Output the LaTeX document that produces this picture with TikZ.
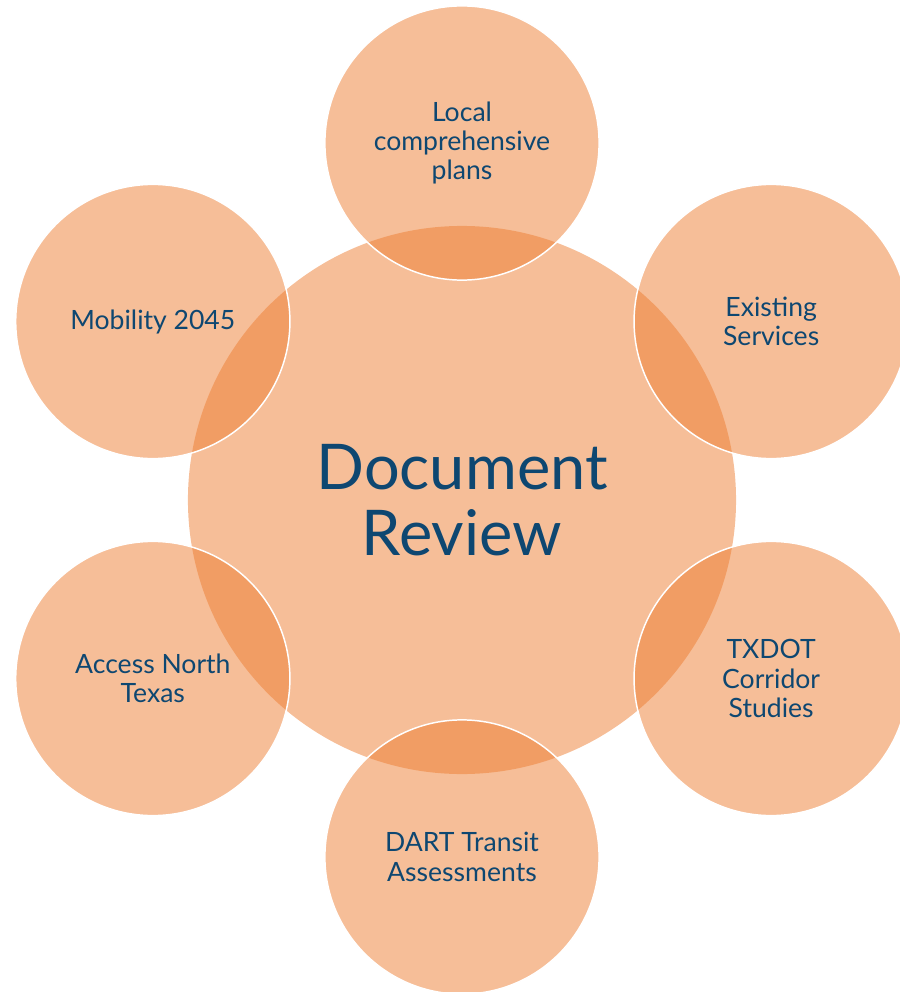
\documentclass[tikz,border=0pt]{standalone}
\usepackage{fontspec}
\setmainfont{Lato}
\usepackage{xcolor}
\usepackage{tikz}
\usetikzlibrary{positioning}

\definecolor{docorange}{HTML}{ED7D31}
\definecolor{docblue}{RGB}{14,71,113}

\begin{document}
\begin{tikzpicture}[
    hub/.style={circle, minimum size=18.27cm, inner sep=0pt, fill=docorange, fill opacity=0.5,
        text opacity=1, text=docblue, align=center, font=\fontsize{59.8}{62.6}\selectfont},
    topic/.style={circle, minimum size=9.14cm, inner sep=0pt, fill=docorange, fill opacity=0.5,
        draw=white, draw opacity=1, line width=1.4pt, text opacity=1, text=docblue,
        align=center, font=\fontsize{25.2}{27.8}\selectfont}
]
    \useasboundingbox (-15.4,-16.4) rectangle (14.6,16.667);

    % Central node
    \node[hub] (review) at (0, 0) {Document\\Review};

    % Documents around it
    \node[topic] (plans) at (90:11.9) {Local\\comprehensive\\plans};
    \node[topic] (services) at (30:11.9) {Existing\\Services};
    \node[topic] (txdot) at (-30:11.9) {TXDOT\\Corridor\\Studies};
    \node[topic] (dart) at (-90:11.9) {DART Transit\\Assessments};
    \node[topic] (access) at (-150:11.9) {Access North\\Texas};
    \node[topic] (mobility) at (150:11.9) {Mobility 2045};
\end{tikzpicture}
\end{document}
